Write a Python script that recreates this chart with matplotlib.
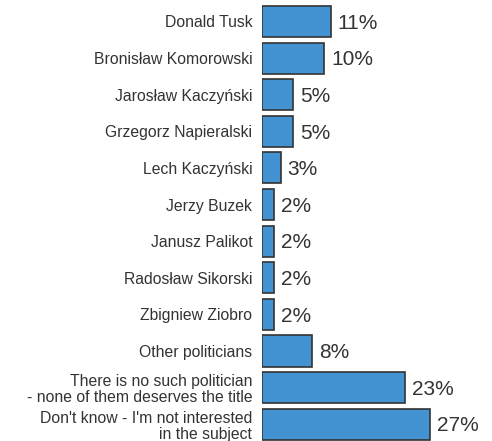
import matplotlib.pyplot as plt

plt.rcParams['font.family'] = ['Liberation Sans', 'DejaVu Sans']

# Data
labels = [
    "Donald Tusk",
    "Bronisław Komorowski",
    "Jarosław Kaczyński",
    "Grzegorz Napieralski",
    "Lech Kaczyński",
    "Jerzy Buzek",
    "Janusz Palikot",
    "Radosław Sikorski",
    "Zbigniew Ziobro",
    "Other politicians",
    "There is no such politician\n- none of them deserves the title",
    "Don't know - I'm not interested\nin the subject",
]
values = [11, 10, 5, 5, 3, 2, 2, 2, 2, 8, 23, 27]

fig = plt.figure(figsize=(4.92, 4.41), dpi=100)
ax = fig.add_axes([262 / 492, 0, 187 / 492, 1])

pos = list(range(len(values)))
ax.barh(pos, values, height=0.85, color="#4393d3", edgecolor="#333333", linewidth=1.2)

for y, v in zip(pos, values):
    ax.text(v + 1.1, y + 0.05, f"{v}%", va="center", ha="left", fontsize=15, color="#333333")

ax.set_xlim(0, 30)
ax.set_ylim(11.46, -0.587)
ax.set_yticks(pos)
ax.set_yticklabels(labels, fontsize=11.3, color="#333333", linespacing=1.1)
ax.tick_params(axis="y", length=0, pad=7)
ax.set_xticks([])
for s in ax.spines.values():
    s.set_visible(False)

fig.savefig("out.png", dpi=100)
